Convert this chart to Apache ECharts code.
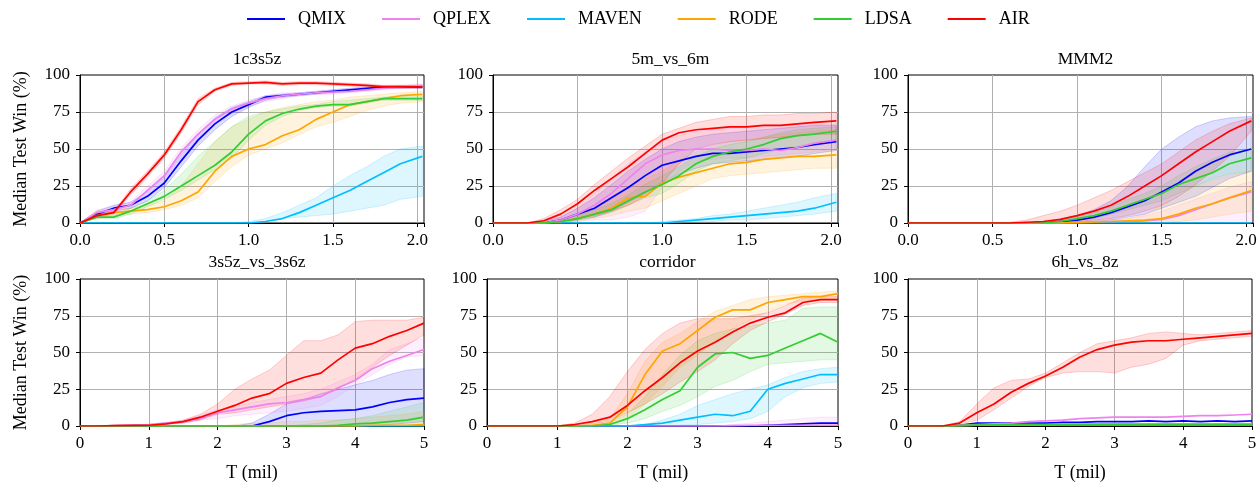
<!DOCTYPE html>
<html>
<head>
<meta charset="utf-8">
<script src="https://cdn.jsdelivr.net/npm/echarts@6/dist/echarts.min.js"></script>
<style>
  html, body { margin: 0; padding: 0; background: #fff; }
  #chart { width: 1259px; height: 482px; }
</style>
</head>
<body>
<div id="chart"></div>
<script>
const METHODS = ['QMIX', 'QPLEX', 'MAVEN', 'RODE', 'LDSA', 'AIR']
const COLORS = ['#0000ff', '#ee82ee', '#00bfff', '#ffa500', '#32cd32', '#ff0000']
const TITLES = ['1c3s5z', '5m_vs_6m', 'MMM2', '3s5z_vs_3s6z', 'corridor', '6h_vs_8z']

// timesteps (mil)
const X_TOP = [0, 0.1, 0.2, 0.3, 0.4, 0.5, 0.6, 0.7, 0.8, 0.9, 1.0, 1.1, 1.2, 1.3, 1.4, 1.5, 1.6, 1.7, 1.8, 1.9, 2.03]
const X_BOT = [0, 0.25, 0.5, 0.75, 1, 1.25, 1.5, 1.75, 2, 2.25, 2.5, 2.75, 3, 3.25, 3.5, 3.75, 4, 4.25, 4.5, 4.75, 5]
const X_TICKS_TOP = [0, 0.5, 1.0, 1.5, 2.0]
const X_TICKS_BOT = [0, 1, 2, 3, 4, 5]
const Y_TICKS = [0, 25, 50, 75, 100]

// ---- 1c3s5z ----
const p1_QMIX  = [0, 6, 10, 12, 18, 27, 42, 56, 67, 75, 80, 85, 86, 87, 88, 89, 90, 91, 92, 92, 92]
const p1_QPLEX = [0, 7, 9, 12, 22, 32, 48, 60, 70, 77, 81, 84, 86, 87, 88, 88.5, 89, 90, 91, 92, 93]
const p1_MAVEN = [0, 0, 0, 0, 0, 0, 0, 0, 0, 0, 0, 1, 3, 7, 12, 17, 22, 28, 34, 40, 45]
const p1_RODE  = [0, 5, 7, 8, 9, 11, 15, 21, 35, 45, 50, 53, 59, 63, 70, 75, 80, 82, 84, 86, 87]
const p1_LDSA  = [0, 4, 4, 8, 13, 18, 25, 32, 39, 48, 60, 69, 74, 77, 79, 80, 80, 82, 84, 84, 84]
const p1_AIR   = [0, 5, 7, 21, 33, 46, 63, 82, 90, 94, 94.5, 95, 94, 94.5, 94.5, 94, 93.5, 93, 92, 92, 92]
const p1_QMIX_lo  = [0, 4, 8, 10, 15, 24, 38, 52, 63, 72, 78, 83, 85, 86, 87, 88, 89, 90, 91, 91, 91]
const p1_QMIX_hi  = [0, 8, 12, 14, 21, 31, 46, 60, 71, 78, 82, 86, 87, 88, 89, 90, 91, 92, 93, 93, 93]
const p1_QPLEX_lo = [0, 5, 7, 10, 19, 29, 44, 57, 67, 74, 79, 82, 84, 86, 87, 87, 88, 89, 90, 91, 92]
const p1_QPLEX_hi = [0, 9, 11, 14, 25, 35, 51, 63, 73, 79, 83, 86, 88, 88, 89, 90, 90, 91, 92, 93, 94]
const p1_MAVEN_lo = [0, 0, 0, 0, 0, 0, 0, 0, 0, 0, 0, 1, 3, 4, 5, 6, 8, 10, 12, 16, 18]
const p1_MAVEN_hi = [0, 0, 0, 0, 0, 0, 0, 0, 0, 0, 1, 3, 7, 12, 17, 25, 32, 38, 45, 50, 52]
const p1_RODE_lo  = [0, 3, 5, 6, 7, 9, 12, 17, 28, 38, 46, 50, 54, 60, 65, 68, 72, 76, 79, 81, 82]
const p1_RODE_hi  = [0, 8, 9, 10, 12, 15, 25, 40, 55, 65, 70, 75, 78, 80, 82, 83, 85, 86, 87, 88, 89]
const p1_LDSA_lo  = [0, 3, 3, 6, 11, 16, 22, 29, 36, 44, 56, 66, 72, 76, 78, 79, 79, 81, 83, 83, 83]
const p1_LDSA_hi  = [0, 5, 5, 10, 15, 22, 33, 45, 55, 65, 72, 75, 77, 79, 80, 82, 83, 84, 85, 86, 86]
const p1_AIR_lo   = [0, 4, 6, 19, 31, 44, 61, 80, 89, 93, 94, 94, 93, 93.5, 93.5, 93, 92.5, 92, 91, 91, 91]
const p1_AIR_hi   = [0, 6, 8, 23, 35, 48, 65, 84, 91, 95, 95.5, 96, 95, 95.5, 95.5, 95, 94.5, 94, 93, 93, 93]

// ---- 5m_vs_6m ----
const p2_QMIX  = [0, 0, 0, 0, 2, 6, 10, 17, 24, 32, 39, 42, 45, 47, 47, 48, 49, 50, 51, 53, 55]
const p2_QPLEX = [0, 0, 0, 0, 2, 6, 12, 20, 30, 40, 46, 49, 50, 50, 49, 49, 50, 49, 51, 54, 56]
const p2_MAVEN = [0, 0, 0, 0, 0, 0, 0, 0, 0, 0, 0, 1, 2, 3, 4, 5, 6, 7, 8, 10, 14]
const p2_RODE  = [0, 0, 0, 0, 1, 3, 6, 10, 17, 18, 27, 31, 34, 37, 40, 41, 43, 44, 45, 45, 46]
const p2_LDSA  = [0, 0, 0, 0, 1, 3, 6, 9, 15, 21, 26, 32, 40, 45, 48, 50, 53, 57, 59, 60, 62]
const p2_AIR   = [0, 0, 0, 1.5, 6, 13, 22, 30, 38, 47, 56, 61, 63, 64, 65, 65, 66, 66, 67, 68, 69]
const p2_QMIX_lo  = [0, 0, 0, 0, 0, 2, 4, 8, 14, 20, 28, 33, 37, 40, 41, 42, 43, 44, 45, 47, 49]
const p2_QMIX_hi  = [0, 0, 0, 1, 4, 10, 17, 26, 35, 43, 50, 55, 58, 60, 61, 62, 63, 64, 65, 66, 66]
const p2_QPLEX_lo = [0, 0, 0, 0, 0, 1, 2, 2, 4, 8, 24, 35, 42, 43, 44, 44, 45, 46, 47, 48, 50]
const p2_QPLEX_hi = [0, 0, 0, 1, 4, 10, 20, 30, 40, 48, 55, 59, 62, 63, 64, 65, 66, 66, 66, 67, 67]
const p2_MAVEN_lo = [0, 0, 0, 0, 0, 0, 0, 0, 0, 0, 0, 0, 1, 1, 2, 2, 3, 4, 5, 6, 8]
const p2_MAVEN_hi = [0, 0, 0, 0, 0, 0, 0, 0, 0, 0, 1, 2, 3, 5, 6, 8, 10, 12, 14, 17, 20]
const p2_RODE_lo  = [0, 0, 0, 0, 0, 1, 3, 5, 8, 10, 15, 20, 25, 30, 32, 33, 34, 35, 36, 37, 37]
const p2_RODE_hi  = [0, 0, 0, 0, 2, 6, 10, 16, 24, 30, 35, 42, 48, 52, 55, 56, 58, 60, 61, 62, 63]
const p2_LDSA_lo  = [0, 0, 0, 0, 0, 2, 4, 7, 12, 17, 20, 27, 35, 40, 42, 44, 47, 50, 52, 54, 55]
const p2_LDSA_hi  = [0, 0, 0, 0, 2, 5, 9, 13, 19, 26, 32, 38, 45, 50, 53, 55, 58, 61, 63, 64, 65]
const p2_AIR_lo   = [0, 0, 0, 0, 1, 3, 5, 8, 12, 18, 27, 40, 50, 53, 55, 56, 57, 58, 59, 60, 60]
const p2_AIR_hi   = [0, 0, 0, 3, 9, 16, 26, 35, 44, 52, 60, 64, 68, 70, 72, 72, 73, 73, 74, 74, 75]

// ---- MMM2 ----
const p3_QMIX  = [0, 0, 0, 0, 0, 0, 0, 0, 0, 1, 2, 4, 7, 11, 15, 21, 27, 35, 41, 46, 50]
const p3_QPLEX = [0, 0, 0, 0, 0, 0, 0, 0, 0, 0, 0, 0.5, 1, 1, 1.5, 2.5, 5, 9, 13, 17, 21]
const p3_MAVEN = [0, 0, 0, 0, 0, 0, 0, 0, 0, 0, 0, 0, 0, 0, 0, 0, 0, 0, 0, 0, 0]
const p3_RODE  = [0, 0, 0, 0, 0, 0, 0, 0, 0, 0, 0.5, 0.7, 1, 1.5, 2, 3, 6, 10, 13, 17, 22]
const p3_LDSA  = [0, 0, 0, 0, 0, 0, 0, 0, 0, 1, 3, 5, 8, 12, 16, 20, 26, 30, 34, 40, 44]
const p3_AIR   = [0, 0, 0, 0, 0, 0, 0, 0.5, 1, 2.5, 5, 8, 12, 18, 25, 32, 40, 48, 55, 62, 69]
const p3_QMIX_lo  = [0, 0, 0, 0, 0, 0, 0, 0, 0, 0, 0, 1, 2, 4, 6, 10, 14, 18, 24, 30, 35]
const p3_QMIX_hi  = [0, 0, 0, 0, 0, 0, 0, 0, 0, 2, 5, 9, 15, 25, 38, 50, 58, 65, 69, 71, 72]
const p3_QPLEX_lo = [0, 0, 0, 0, 0, 0, 0, 0, 0, 0, 0, 0, 0, 0, 0, 0, 0, 0, 0, 0, 0]
const p3_QPLEX_hi = [0, 0, 0, 0, 0, 0, 0, 0, 0, 0, 0, 1, 2, 3, 5, 8, 12, 16, 20, 24, 28]
const p3_RODE_lo  = [0, 0, 0, 0, 0, 0, 0, 0, 0, 0, 0, 0, 0, 0, 0, 0, 1, 2, 4, 6, 8]
const p3_RODE_hi  = [0, 0, 0, 0, 0, 0, 0, 0, 0, 0, 1, 2, 2, 3, 6, 12, 18, 25, 29, 32, 35]
const p3_LDSA_lo  = [0, 0, 0, 0, 0, 0, 0, 0, 0, 0, 2, 3, 6, 9, 12, 15, 20, 25, 30, 33, 35]
const p3_LDSA_hi  = [0, 0, 0, 0, 0, 0, 0, 0, 0, 2, 4, 7, 11, 16, 20, 25, 32, 38, 43, 48, 50]
const p3_AIR_lo   = [0, 0, 0, 0, 0, 0, 0, 0, 0, 0.5, 1, 2, 3, 5, 8, 12, 18, 26, 35, 45, 62]
const p3_AIR_hi   = [0, 0, 0, 0, 0, 0, 0.5, 2, 5, 8, 12, 17, 22, 28, 34, 40, 48, 56, 62, 67, 71]

// ---- 3s5z_vs_3s6z ----
const p4_QMIX  = [0, 0, 0, 0, 0, 0, 0, 0, 0, 0, 0, 3, 7, 9, 10, 10.5, 11, 13, 16, 18, 19]
const p4_QPLEX = [0, 0, 0.3, 0.6, 1, 2, 3, 5, 9, 11, 13, 15, 16, 18, 20, 26, 31, 39, 44, 48, 52]
const p4_MAVEN = [0, 0, 0, 0, 0, 0, 0, 0, 0, 0, 0, 0, 0, 0, 0, 0, 0, 0, 0, 0, 0]
const p4_RODE  = [0, 0, 0, 0, 0, 0, 0, 0, 0, 0, 0, 0, 0, 0, 0, 0, 0, 0.5, 0.5, 0.5, 1]
const p4_LDSA  = [0, 0, 0, 0, 0, 0, 0, 0, 0, 0, 0, 0, 0, 0, 0, 0.5, 1.5, 2, 3, 4, 6]
const p4_AIR   = [0, 0, 0.2, 0.4, 0.5, 1.5, 3, 6, 10, 14, 19, 22, 29, 33, 36, 45, 53, 56, 61, 65, 70]
const p4_QMIX_lo  = [0, 0, 0, 0, 0, 0, 0, 0, 0, 0, 0, 0, 0, 0, 0, 0, 0, 0, 1, 2, 3]
const p4_QMIX_hi  = [0, 0, 0, 0, 0, 0, 0, 0, 0, 0, 2, 8, 15, 18, 22, 25, 28, 31, 35, 38, 39]
const p4_QPLEX_lo = [0, 0, 0.2, 0.4, 0.8, 1.5, 2, 4, 5, 7, 8, 9, 10, 12, 14, 20, 28, 35, 42, 47, 48]
const p4_QPLEX_hi = [0, 0, 0.5, 0.8, 1.3, 2.5, 4, 7, 11, 13, 16, 18, 20, 22, 25, 30, 35, 42, 52, 56, 60]
const p4_RODE_lo  = [0, 0, 0, 0, 0, 0, 0, 0, 0, 0, 0, 0, 0, 0, 0, 0, 0, 0, 0, 0, 0]
const p4_RODE_hi  = [0, 0, 0, 0, 0, 0, 0, 0, 0, 1, 2, 2, 3, 3, 4, 4, 5, 6, 7, 8, 10]
const p4_LDSA_lo  = [0, 0, 0, 0, 0, 0, 0, 0, 0, 0, 0, 0, 0, 0, 0, 0, 0, 0, 0, 0, 0]
const p4_LDSA_hi  = [0, 0, 0, 0, 0, 0, 0, 0, 0, 0, 0, 0, 0, 1, 2, 4, 5, 7, 10, 13, 16]
const p4_AIR_lo   = [0, 0, 0, 0.2, 0.4, 1, 2, 4, 8, 9, 11, 13, 15, 17, 20, 25, 32, 40, 48, 55, 62]
const p4_AIR_hi   = [0, 0, 0.5, 0.8, 1, 2, 4, 8, 15, 25, 32, 38, 48, 58, 58, 62, 71, 72, 72, 72, 74]

// ---- corridor ----
const p5_QMIX  = [0, 0, 0, 0, 0, 0, 0, 0, 0, 0, 0, 0, 0, 0, 0, 0, 0.5, 1, 1.5, 2, 2]
const p5_QPLEX = [0, 0, 0, 0, 0, 0, 0, 0, 0, 0, 0, 0, 0, 0, 0.3, 0.5, 0.5, 0.5, 0.5, 0.5, 0.5]
const p5_MAVEN = [0, 0, 0, 0, 0, 0, 0, 0, 0, 1, 2, 4, 6, 8, 7, 10, 25, 29, 32, 35, 35]
const p5_RODE  = [0, 0, 0, 0, 0, 0, 0.5, 2, 13, 35, 51, 56, 65, 74, 79, 79, 84, 86, 88, 88, 90]
const p5_LDSA  = [0, 0, 0, 0, 0, 0, 0, 1, 5, 11, 18, 24, 40, 49, 50, 46, 48, 53, 58, 63, 57]
const p5_AIR   = [0, 0, 0, 0, 0, 1, 3, 6, 14, 24, 33, 43, 51, 57, 64, 70, 74, 77, 84, 86, 86]
const p5_QPLEX_lo = [0, 0, 0, 0, 0, 0, 0, 0, 0, 0, 0, 0, 0, 0, 0, 0, 0, 0, 0, 0, 0]
const p5_QPLEX_hi = [0, 0, 0, 0, 0, 0, 0, 0, 0, 0, 0, 0, 0, 0, 1, 2, 3, 4, 5, 6, 6]
const p5_MAVEN_lo = [0, 0, 0, 0, 0, 0, 0, 0, 0, 0, 0, 0.5, 1, 2, 3, 5, 10, 20, 26, 29, 30]
const p5_MAVEN_hi = [0, 0, 0, 0, 0, 0, 0, 0, 0, 1, 4, 8, 14, 18, 22, 25, 28, 33, 37, 39, 40]
const p5_RODE_lo  = [0, 0, 0, 0, 0, 0, 0, 1, 5, 15, 27, 40, 48, 58, 66, 72, 78, 83, 85, 86, 87]
const p5_RODE_hi  = [0, 0, 0, 0, 0, 0, 1, 5, 22, 44, 57, 63, 71, 78, 82, 86, 88, 89, 90, 91, 92]
const p5_LDSA_lo  = [0, 0, 0, 0, 0, 0, 0, 0.5, 2, 5, 10, 14, 20, 27, 31, 37, 42, 43, 44, 45, 45]
const p5_LDSA_hi  = [0, 0, 0, 0, 0, 0, 0, 2, 8, 20, 35, 48, 58, 63, 66, 68, 70, 72, 80, 81, 81]
const p5_AIR_lo   = [0, 0, 0, 0, 0, 0.5, 1.5, 3, 9, 15, 22, 30, 37, 45, 56, 65, 71, 76, 82, 84, 84]
const p5_AIR_hi   = [0, 0, 0, 0, 0, 2, 8, 20, 37, 52, 63, 70, 73, 73, 73, 75, 77, 82, 87, 88, 88]

// ---- 6h_vs_8z ----
const p6_QMIX  = [0, 0, 0, 0.5, 2, 2, 2, 2, 2, 2.5, 2.5, 3, 3, 3, 3.5, 3, 3.5, 3, 3.5, 3, 3.5]
const p6_QPLEX = [0, 0, 0, 0.5, 1, 1.5, 2, 3, 3.5, 4, 5, 5.5, 6, 6, 6, 6, 6.5, 7, 7, 7.5, 8]
const p6_MAVEN = [0, 0, 0, 0.3, 0.5, 0.5, 0.5, 0.5, 0.5, 0.5, 0.5, 0.5, 0.5, 0.5, 0.5, 0.5, 0.5, 0.5, 0.5, 0.5, 0.5]
const p6_RODE  = [0, 0, 0, 0.3, 0.5, 0.8, 1, 1, 1, 1.2, 1.2, 1.5, 1.5, 1.5, 1.5, 1.5, 1.5, 1.5, 1.5, 1.5, 1.5]
const p6_LDSA  = [0, 0, 0, 0.3, 0.6, 0.8, 1, 1, 1, 1, 1, 1, 1, 1, 1, 1, 1, 1, 1, 1, 1]
const p6_AIR   = [0, 0, 0, 2, 9, 15, 23, 29, 34, 40, 47, 52, 55, 57, 58, 58, 59, 60, 61, 62, 63]
const p6_AIR_lo = [0, 0, 0, 1, 4, 11, 19, 27, 33, 36, 37, 37, 36, 40, 42, 46, 55, 58, 59, 60, 61]
const p6_AIR_hi = [0, 0, 0, 3, 15, 26, 31, 32, 36, 43, 50, 56, 58, 60, 63, 64, 63, 62, 63, 64, 65]

const panels = [
  { x: X_TOP, ticks: X_TICKS_TOP, max: 2.04, lines: [p1_QMIX, p1_QPLEX, p1_MAVEN, p1_RODE, p1_LDSA, p1_AIR],
    bands: [[p1_QMIX_lo, p1_QMIX_hi], [p1_QPLEX_lo, p1_QPLEX_hi], [p1_MAVEN_lo, p1_MAVEN_hi], [p1_RODE_lo, p1_RODE_hi], [p1_LDSA_lo, p1_LDSA_hi], [p1_AIR_lo, p1_AIR_hi]] },
  { x: X_TOP, ticks: X_TICKS_TOP, max: 2.04, lines: [p2_QMIX, p2_QPLEX, p2_MAVEN, p2_RODE, p2_LDSA, p2_AIR],
    bands: [[p2_QMIX_lo, p2_QMIX_hi], [p2_QPLEX_lo, p2_QPLEX_hi], [p2_MAVEN_lo, p2_MAVEN_hi], [p2_RODE_lo, p2_RODE_hi], [p2_LDSA_lo, p2_LDSA_hi], [p2_AIR_lo, p2_AIR_hi]] },
  { x: X_TOP, ticks: X_TICKS_TOP, max: 2.04, lines: [p3_QMIX, p3_QPLEX, p3_MAVEN, p3_RODE, p3_LDSA, p3_AIR],
    bands: [[p3_QMIX_lo, p3_QMIX_hi], [p3_QPLEX_lo, p3_QPLEX_hi], null, [p3_RODE_lo, p3_RODE_hi], [p3_LDSA_lo, p3_LDSA_hi], [p3_AIR_lo, p3_AIR_hi]] },
  { x: X_BOT, ticks: X_TICKS_BOT, max: 5, lines: [p4_QMIX, p4_QPLEX, p4_MAVEN, p4_RODE, p4_LDSA, p4_AIR],
    bands: [[p4_QMIX_lo, p4_QMIX_hi], [p4_QPLEX_lo, p4_QPLEX_hi], null, [p4_RODE_lo, p4_RODE_hi], [p4_LDSA_lo, p4_LDSA_hi], [p4_AIR_lo, p4_AIR_hi]] },
  { x: X_BOT, ticks: X_TICKS_BOT, max: 5, lines: [p5_QMIX, p5_QPLEX, p5_MAVEN, p5_RODE, p5_LDSA, p5_AIR],
    bands: [null, [p5_QPLEX_lo, p5_QPLEX_hi], [p5_MAVEN_lo, p5_MAVEN_hi], [p5_RODE_lo, p5_RODE_hi], [p5_LDSA_lo, p5_LDSA_hi], [p5_AIR_lo, p5_AIR_hi]] },
  { x: X_BOT, ticks: X_TICKS_BOT, max: 5, lines: [p6_QMIX, p6_QPLEX, p6_MAVEN, p6_RODE, p6_LDSA, p6_AIR],
    bands: [null, null, null, null, null, [p6_AIR_lo, p6_AIR_hi]] }
]

const FONT = 'Liberation Serif'
const grids = [
  { left: 80, top: 75, width: 344, height: 148 },
  { left: 493, top: 75, width: 345, height: 148 },
  { left: 908, top: 75, width: 345, height: 148 },
  { left: 80, top: 279, width: 344, height: 147 },
  { left: 487, top: 279, width: 351, height: 147 },
  { left: 908, top: 279, width: 344, height: 147 }
]

function hexToRgba(hex, a) {
  const n = parseInt(hex.slice(1), 16)
  return `rgba(${(n >> 16) & 255}, ${(n >> 8) & 255}, ${n & 255}, ${a})`
}

const chart = echarts.init(document.getElementById('chart'), null, { renderer: 'canvas' })

const xAxes = []
const yAxes = []
const series = []
const titles = []

panels.forEach((p, i) => {
  const isTop = i < 3
  xAxes.push({
    type: 'value', gridIndex: i, min: 0, max: p.max, interval: isTop ? 0.5 : 1,
    name: isTop ? '' : 'T (mil)', nameLocation: 'middle', nameGap: 38,
    nameTextStyle: { fontFamily: FONT, fontSize: 18, color: '#000' },
    axisLine: { onZero: false, lineStyle: { color: '#000', width: 1 } },
    axisTick: { inside: false, length: 4, lineStyle: { color: '#000' } },
    axisLabel: {
      margin: 9, fontFamily: FONT, fontSize: 17, color: '#000',
      formatter: v => p.ticks.some(t => Math.abs(t - v) < 1e-6) ? (isTop ? v.toFixed(1) : String(v)) : ''
    },
    splitLine: { show: true, showMaxLine: false, lineStyle: { color: '#b0b0b0', width: 1 } }
  })
  yAxes.push({
    type: 'value', gridIndex: i, min: 0, max: 100, interval: 25,
    name: i % 3 === 0 ? 'Median Test Win (%)' : '', nameLocation: 'middle', nameGap: 50,
    nameTextStyle: { fontFamily: FONT, fontSize: 18, color: '#000' },
    axisLine: { show: true, onZero: false, lineStyle: { color: '#000', width: 1 } },
    axisTick: { show: true, inside: false, length: 4, lineStyle: { color: '#000' } },
    axisLabel: { margin: 10, fontFamily: FONT, fontSize: 17, color: '#000', formatter: v => Y_TICKS.includes(v) ? String(v) : '' },
    splitLine: { show: true, showMaxLine: false, lineStyle: { color: '#b0b0b0', width: 1 } }
  })
  const g = grids[i]
  titles.push({
    text: TITLES[i], left: g.left + g.width / 2, top: isTop ? 45 : 248, textAlign: 'center',
    textStyle: { fontFamily: FONT, fontSize: 17.5, fontWeight: 'normal', color: '#000' }
  })

  // shaded min/max bands
  p.bands.forEach((b, m) => {
    if (!b) return
    const [lo, hi] = b
    series.push({
      type: 'custom', xAxisIndex: i, yAxisIndex: i, silent: true, z: 1,
      data: [[0, 0]],
      renderItem: (params, api) => {
        const pts = []
        p.x.forEach((x, k) => pts.push(api.coord([x, hi[k]])))
        for (let k = p.x.length - 1; k >= 0; k--) pts.push(api.coord([p.x[k], lo[k]]))
        return {
          type: 'polygon', shape: { points: pts },
          style: { fill: hexToRgba(COLORS[m], 0.13), stroke: hexToRgba(COLORS[m], 0.18), lineWidth: 1 }
        }
      }
    })
  })
  // median lines
  p.lines.forEach((ys, m) => {
    series.push({
      name: METHODS[m], type: 'line', xAxisIndex: i, yAxisIndex: i, z: 2 + m,
      data: p.x.map((x, k) => [x, ys[k]]),
      showSymbol: false, symbol: 'none', smooth: false,
      lineStyle: { color: COLORS[m], width: 1.7 }, itemStyle: { color: COLORS[m] },
      emphasis: { disabled: true }
    })
  })
})

chart.setOption({
  backgroundColor: '#fff',
  animation: false,
  title: titles,
  legend: {
    data: METHODS, left: 242, top: 5, icon: 'rect', itemWidth: 38, itemHeight: 2, itemGap: 36,
    textStyle: { fontFamily: FONT, fontSize: 18, color: '#000', padding: [0, 0, 0, 8] }
  },
  grid: grids.map(g => ({ ...g, show: true, borderColor: '#000', borderWidth: 1, backgroundColor: 'transparent', outerBoundsMode: 'none' })),
  xAxis: xAxes,
  yAxis: yAxes,
  series: series
})
</script>
</body>
</html>
